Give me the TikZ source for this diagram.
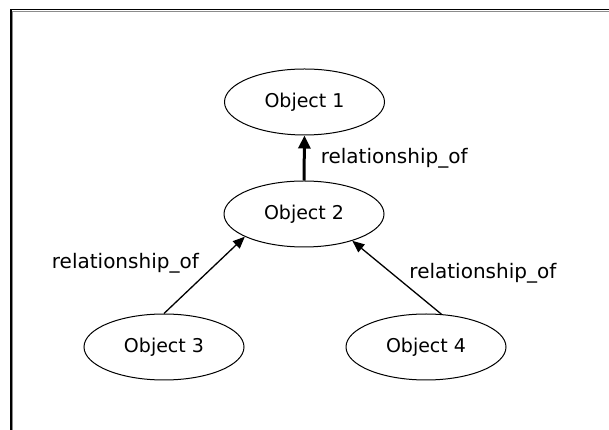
\documentclass[tikz,border=0pt]{standalone}
\usepackage{fontspec}
\setmainfont{DejaVu Sans}
\usetikzlibrary{arrows.meta,shapes.geometric}
\tikzset{
  obj/.style={ellipse, draw=black, line width=1pt, minimum width=160pt, minimum height=66pt, inner sep=0pt, font=\fontsize{19}{22}\selectfont},
  rel/.style={font=\fontsize{20}{24}\selectfont, inner sep=0pt},
  thickarrow/.style={line width=3pt, -{Triangle[width=12pt,length=13pt]}},
  thinarrow/.style={line width=1.3pt, -{Triangle[width=10pt,length=12pt]}},
  frameline/.style={line width=1.4pt, black},
  frameshade/.style={line width=0.9pt, black!45}
}
\begin{document}
\begin{tikzpicture}[x=1pt,y=1pt]
\useasboundingbox (0,0) rectangle (609,430);
% frame (top and left edges)
\coordinate (ftl) at (11,420.5);
\coordinate (ftr) at (609,420.5);
\coordinate (fbl) at (11,0);
\draw[frameline] (ftr) -- (ftl) -- (fbl);
\draw[frameshade] ([xshift=1.6pt,yshift=-1.6pt]ftr) -- ([xshift=1.6pt,yshift=-1.6pt]ftl) -- ([xshift=1.6pt]fbl);
% objects
\node[obj] (o1) at (304.5,328) {Object 1};
\node[obj] (o2) at (304,216) {Object 2};
\node[obj] (o3) at (164,83) {Object 3};
\node[obj] (o4) at (426,83) {Object 4};
% connectors
\draw[thickarrow] (o2.north) -- (o1.south)
  node[rel, midway, anchor=west, xshift=15pt] {relationship\_of};
\draw[thinarrow] (o3.north) -- (o2.201)
  node[rel, pos=0.5, anchor=east, xshift=-5pt, yshift=12pt] {relationship\_of};
\draw[thinarrow] (o4.65) -- (o2.-29)
  node[rel, pos=0.5, anchor=west, xshift=12pt, yshift=4pt] {relationship\_of};
\end{tikzpicture}
\end{document}
